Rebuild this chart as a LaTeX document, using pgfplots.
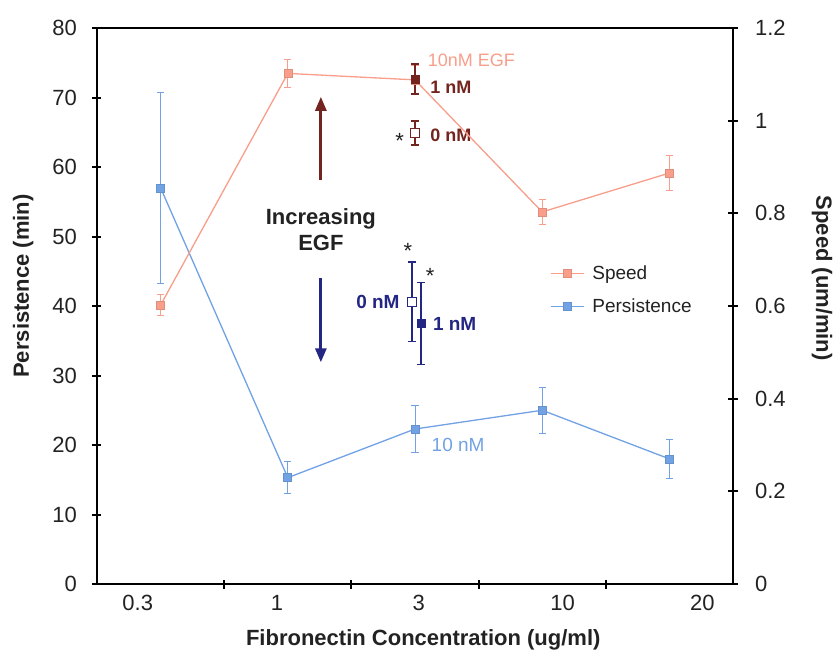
\documentclass[border=0pt]{standalone}
\usepackage{pgfplots}
\pgfplotsset{compat=1.18}
\usetikzlibrary{arrows.meta}
\usepackage{fontspec}
\setmainfont{Liberation Sans}

\definecolor{speedc}{RGB}{248,158,138}
\definecolor{persc}{RGB}{112,162,228}
\definecolor{egfred}{RGB}{116,36,30}
\definecolor{egfblue}{RGB}{36,38,132}
\definecolor{txt}{RGB}{34,34,34}

% Speed (um/min): x = category centre, y, error
\pgfplotstableread{
x    y      e
0.5  0.602  0.022
1.5  1.102  0.030
2.5  1.088  0.032
3.5  0.803  0.026
4.5  0.887  0.037
}\speedtab
% Persistence (min)
\pgfplotstableread{
x    y     e
0.5  57.0  13.7
1.5  15.3  2.3
2.5  22.3  3.4
3.5  25.0  3.3
4.5  18.0  2.75
}\perstab

\newcommand\lblfont{\fontsize{22}{26}\selectfont}
\newcommand\midfont{\fontsize{19}{23}\selectfont}

\begin{document}
\begin{tikzpicture}[font=\midfont]
\pgfplotsset{
  base/.style={
    scale only axis, width=636pt, height=556pt,
    xmin=0, xmax=5, clip=false,
    /pgf/number format/assume math mode=true,
    tick label style={font=\lblfont, text=txt},
    tick align=center, major tick length=9pt,
    tick style={line width=2pt, black},
    axis line style={line width=2.4pt, black},
  },
  spd/.style={color=speedc, line width=1.3pt, mark=square*, mark size=4pt,
    mark options={fill=speedc, draw=speedc!90!black, line width=0.6pt}},
  prs/.style={color=persc, line width=1.3pt, mark=square*, mark size=4pt,
    mark options={fill=persc, draw=persc!90!black, line width=0.6pt}},
  ebar/.style={error bars/.cd, y dir=both, y explicit,
    error bar style={line width=0.9pt, #1},
    error mark options={rotate=90, line width=0.9pt, mark size=3.6pt, #1}},
}

% ---- left axis: persistence ----
\begin{axis}[base,
  ymin=0, ymax=80, ytick={0,10,...,80},
  ytick pos=left, xtick pos=bottom,
  xtick={1,2,3,4}, xticklabels={},
  extra x ticks={0.32,1.415,2.53,3.66,4.76},
  extra x tick labels={0.3,1,3,10,20},
  extra x tick style={major tick length=0pt},
  xticklabel style={yshift=-8pt},
  yticklabel style={xshift=-12pt},
  xlabel={\bfseries Fibronectin Concentration (ug/ml)},
  xlabel style={at={(axis description cs:0.513,-0.101)}, anchor=center, text=txt, font=\lblfont},
  ylabel={\bfseries Persistence (min)},
  ylabel style={at={(axis description cs:-0.116,0.536)}, anchor=center, rotate=0, text=txt, font=\lblfont},
]
\addplot[prs, ebar={persc}] table[x=x, y=y, y error=e] {\perstab};

% EGF series at 3 ug/ml
\addplot[only marks, mark=square*, mark size=4.2pt, mark options={fill=white, draw=egfblue, line width=1pt},
  ebar={egfblue, line width=1.7pt}] coordinates {(2.476,40.6) +- (0,5.7)};
\addplot[only marks, mark=square*, mark size=4.2pt, mark options={fill=egfblue, draw=egfblue},
  ebar={egfblue, line width=1.7pt}] coordinates {(2.547,37.5) +- (0,5.9)};

% annotations
\draw[egfred, line width=2.8pt, -{Triangle[length=14pt,width=11pt]}] (axis cs:1.76,58.1) -- (axis cs:1.76,70.1);
\draw[egfblue, line width=2.8pt, -{Triangle[length=14pt,width=11pt]}] (axis cs:1.76,44.0) -- (axis cs:1.76,31.9);
\node[font=\lblfont\bfseries, text=txt, align=center] at (axis cs:1.76,51.0) {Increasing\\EGF};

\node[anchor=west, text=speedc, inner sep=0pt, font=\fontsize{18}{22}\selectfont] at (axis cs:2.60,75.4) {10nM EGF};
\node[anchor=west, text=egfred, font=\fontsize{18}{22}\selectfont\bfseries, inner sep=0pt] at (axis cs:2.62,71.4) {1 nM};
\node[anchor=west, text=egfred, font=\fontsize{18}{22}\selectfont\bfseries, inner sep=0pt] at (axis cs:2.62,64.6) {0 nM};
\node[text=txt, inner sep=0pt, font=\lblfont] at (axis cs:2.38,63.8) {*};

\node[anchor=east, text=egfblue, font=\midfont\bfseries, inner sep=0pt] at (axis cs:2.38,40.6) {0 nM};
\node[anchor=west, text=egfblue, font=\midfont\bfseries, inner sep=0pt] at (axis cs:2.64,37.4) {1 nM};
\node[text=txt, inner sep=0pt, font=\lblfont] at (axis cs:2.445,47.9) {*};
\node[text=txt, inner sep=0pt, font=\lblfont] at (axis cs:2.62,44.3) {*};
\node[anchor=west, text=persc, inner sep=0pt] at (axis cs:2.63,20.0) {10 nM};
\end{axis}

% ---- right axis: speed ----
\begin{axis}[base,
  ymin=0, ymax=1.2, ytick={0,0.2,...,1.2},
  axis y line*=right, axis x line=none,
  yticklabel style={xshift=14pt},
  ylabel={\bfseries Speed (um/min)},
  ylabel style={at={(axis description cs:1.140,0.550)}, anchor=center, rotate=180, text=txt, font=\lblfont},
  legend style={at={(axis description cs:0.712,0.529)}, anchor=west, draw=none, fill=none,
    inner sep=0pt, row sep=14pt, font=\midfont, text=txt,
    cells={anchor=west}},
  legend image code/.code={%
    \draw[#1, mark repeat=2, mark phase=2] plot coordinates {(0pt,0pt) (16.5pt,0pt) (33pt,0pt)};},
]
\addplot[spd, ebar={speedc}] table[x=x, y=y, y error=e] {\speedtab};
\addlegendentry{\hspace{6pt}Speed}
\addlegendimage{prs}
\addlegendentry{\hspace{6pt}Persistence}

\addplot[forget plot, only marks, mark=square*, mark size=4.2pt, mark options={fill=white, draw=egfred, line width=1pt},
  ebar={egfred, line width=1.7pt}] coordinates {(2.5,0.973) +- (0,0.026)};
\addplot[forget plot, only marks, mark=square*, mark size=4.2pt, mark options={fill=egfred, draw=egfred},
  ebar={egfred, line width=1.7pt}] coordinates {(2.5,1.090) +- (0,0.032)};
\end{axis}

\pgfresetboundingbox
\path[use as bounding box] (-97pt,-75pt) rectangle (736pt,584pt);
\end{tikzpicture}
\end{document}
